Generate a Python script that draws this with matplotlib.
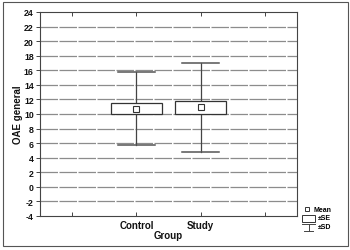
import matplotlib
matplotlib.use("Agg")
import matplotlib.pyplot as plt
from matplotlib.patches import Rectangle
from matplotlib.lines import Line2D

plt.rcParams['font.family'] = ['Liberation Sans', 'DejaVu Sans']
plt.rcParams['font.weight'] = 'bold'

groups = ["Control", "Study"]
means = [10.75, 10.9]
se = [0.75, 0.92]
sd = [5.05, 6.12]
yticks = list(range(-4, 25, 2))

W, H = 350, 251
fig = plt.figure(figsize=(W / 100, H / 100), dpi=100)

def fx(x):
    return x / W

def fy(y):
    return 1 - y / H

# outer frame
fig.patches.append(Rectangle((fx(3), fy(247)), fx(345), (247 - 3) / H,
                             transform=fig.transFigure, fill=False,
                             edgecolor="#555555", linewidth=0.8))

ax = fig.add_axes([fx(40), fy(217), fx(257), (217 - 13) / H])
ax.set_xlim(-0.5, 3.5)
ax.set_ylim(-4, 24)

for v in yticks[1:-1]:
    ax.axhline(v, color="#8c8c8c", linewidth=0.9, dashes=(14, 1.2), zorder=1)

pos = [1, 2]
box_w = 0.8
cap_w = 0.58
for p, m, s, d in zip(pos, means, se, sd):
    ax.plot([p, p], [m - d, m + d], color="#444444", linewidth=0.9, zorder=2)
    ax.plot([p - cap_w / 2, p + cap_w / 2], [m + d, m + d], color="#555555", linewidth=1.1, zorder=2)
    ax.plot([p - cap_w / 2, p + cap_w / 2], [m - d, m - d], color="#555555", linewidth=1.1, zorder=2)
    ax.add_patch(Rectangle((p - box_w / 2, m - s), box_w, 2 * s, facecolor="white",
                           edgecolor="#333333", linewidth=0.9, zorder=3))
    ax.plot([p], [m], marker="s", markersize=4.5, markerfacecolor="white",
            markeredgecolor="#333333", markeredgewidth=0.8, zorder=4)

ax.set_yticks(yticks)
ax.set_yticklabels([str(v) for v in yticks], fontsize=6.3, fontweight="bold")
ax.set_xticks([0, 1, 2, 3])
ax.set_xticklabels(["", "Control", "Study", ""], fontsize=7, fontweight="bold")
ax.tick_params(axis="x", direction="in", top=True, length=3, width=0.7, pad=3, colors="#444444", labelcolor="#111111")
ax.tick_params(axis="y", direction="out", length=3, width=0.7, pad=1.5, colors="#444444", labelcolor="#111111")
for sp in ax.spines.values():
    sp.set_color("#444444")
    sp.set_linewidth(0.8)

ax.set_xlabel("Group", fontsize=7, fontweight="bold", labelpad=0, color="#111111")
ax.set_ylabel("OAE general", fontsize=7, fontweight="bold", color="#111111")
ax.yaxis.set_label_coords((23 - 40) / 257, 0.5)

# legend drawn in figure pixel space
fig.add_artist(Line2D([fx(306.5)], [fy(210)], marker="s", markersize=3.5,
                      markerfacecolor="white", markeredgecolor="#333333",
                      markeredgewidth=0.7, transform=fig.transFigure))
fig.text(fx(314), fy(210), "Mean", fontsize=5, fontweight="bold", va="center", ha="left")
fig.patches.append(Rectangle((fx(302), fy(223)), fx(13), 7 / H, transform=fig.transFigure,
                             fill=False, edgecolor="#333333", linewidth=0.7))
fig.text(fx(318), fy(219), "±SE", fontsize=5, fontweight="bold", va="center", ha="left")
fig.add_artist(Line2D([fx(302), fx(315)], [fy(225), fy(225)], color="#444444",
                      linewidth=0.7, transform=fig.transFigure))
fig.add_artist(Line2D([fx(308.5), fx(308.5)], [fy(225), fy(232)], color="#444444",
                      linewidth=0.7, transform=fig.transFigure))
fig.add_artist(Line2D([fx(304), fx(313)], [fy(232), fy(232)], color="#444444",
                      linewidth=0.7, transform=fig.transFigure))
fig.text(fx(318), fy(228), "±SD", fontsize=5, fontweight="bold", va="center", ha="left")

fig.savefig("out.png", dpi=100)
